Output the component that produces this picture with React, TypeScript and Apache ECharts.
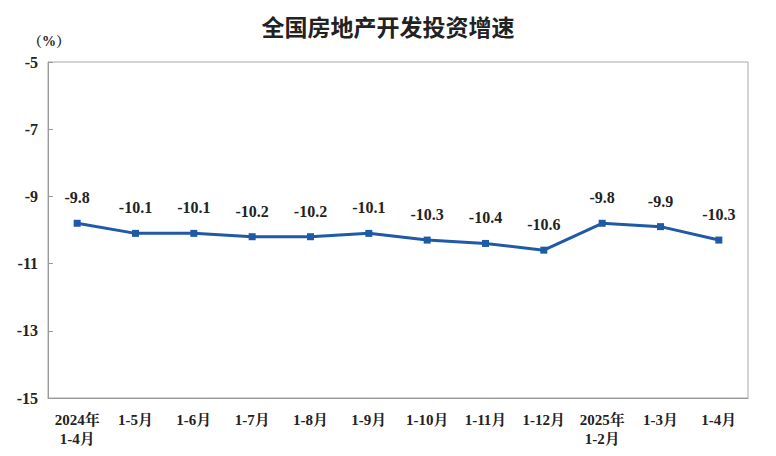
import React, { useEffect, useRef } from "react";
import * as echarts from "echarts";

const categories = ["2024年\n1-4月", "1-5月", "1-6月", "1-7月", "1-8月", "1-9月", "1-10月", "1-11月", "1-12月", "2025年\n1-2月", "1-3月", "1-4月"];
const values = [-9.8, -10.1, -10.1, -10.2, -10.2, -10.1, -10.3, -10.4, -10.6, -9.8, -9.9, -10.3];
const yTicks = [-15, -13, -11, -9, -7, -5];

const serif = "'Liberation Serif', 'Times New Roman', 'Noto Serif CJK SC', 'Noto Sans CJK SC', serif";

export default function App() {
  const ref = useRef<HTMLDivElement>(null);
  useEffect(() => {
    if (!ref.current) return;
    const chart = echarts.init(ref.current, null, { renderer: "svg" });
    chart.setOption({
      animation: false,
      backgroundColor: "#ffffff",
      title: {
        text: "全国房地产开发投资增速",
        left: "center",
        top: 1,
        textStyle: { fontFamily: "'Noto Sans CJK SC', sans-serif", fontWeight: "bold", fontSize: 23, color: "#222" },
      },
      grid: { left: 40, right: 20, top: 54, bottom: 50, show: true, borderColor: "#aaaaaa", borderWidth: 1 },
      xAxis: {
        type: "category",
        data: categories,
        boundaryGap: true,
        axisLine: { lineStyle: { color: "#999" } },
        axisTick: { inside: true, length: 6, interval: 0, lineStyle: { color: "#999" } },
        axisLabel: { interval: 0, fontFamily: serif, fontWeight: "bold", fontSize: 15, color: "#222", margin: 12, lineHeight: 19 },
      },
      yAxis: {
        type: "value",
        min: yTicks[0],
        max: yTicks[yTicks.length - 1],
        interval: 2,
        name: "（%）",
        nameLocation: "end",
        nameGap: 14,
        nameTextStyle: { fontFamily: serif, fontWeight: "bold", fontSize: 14, color: "#222", align: "center", padding: [0, 0, 0, 2] },
        splitLine: { show: false },
        axisLine: { show: true, lineStyle: { color: "#999" } },
        axisTick: { show: true, inside: true, length: 5, lineStyle: { color: "#999" } },
        axisLabel: { fontFamily: serif, fontWeight: "bold", fontSize: 16, color: "#222", margin: 10 },
      },
      series: [
        {
          type: "line",
          data: values,
          symbol: "rect",
          symbolSize: 7,
          itemStyle: { color: "#1f5aa6" },
          lineStyle: { color: "#1f5aa6", width: 3 },
          label: {
            show: true,
            position: "top",
            distance: 14,
            fontFamily: serif,
            fontWeight: "bold",
            fontSize: 16,
            color: "#222",
          },
        },
      ],
    });
    return () => chart.dispose();
  }, []);
  return <div ref={ref} style={{ width: 760, height: 440 }} />;
}
